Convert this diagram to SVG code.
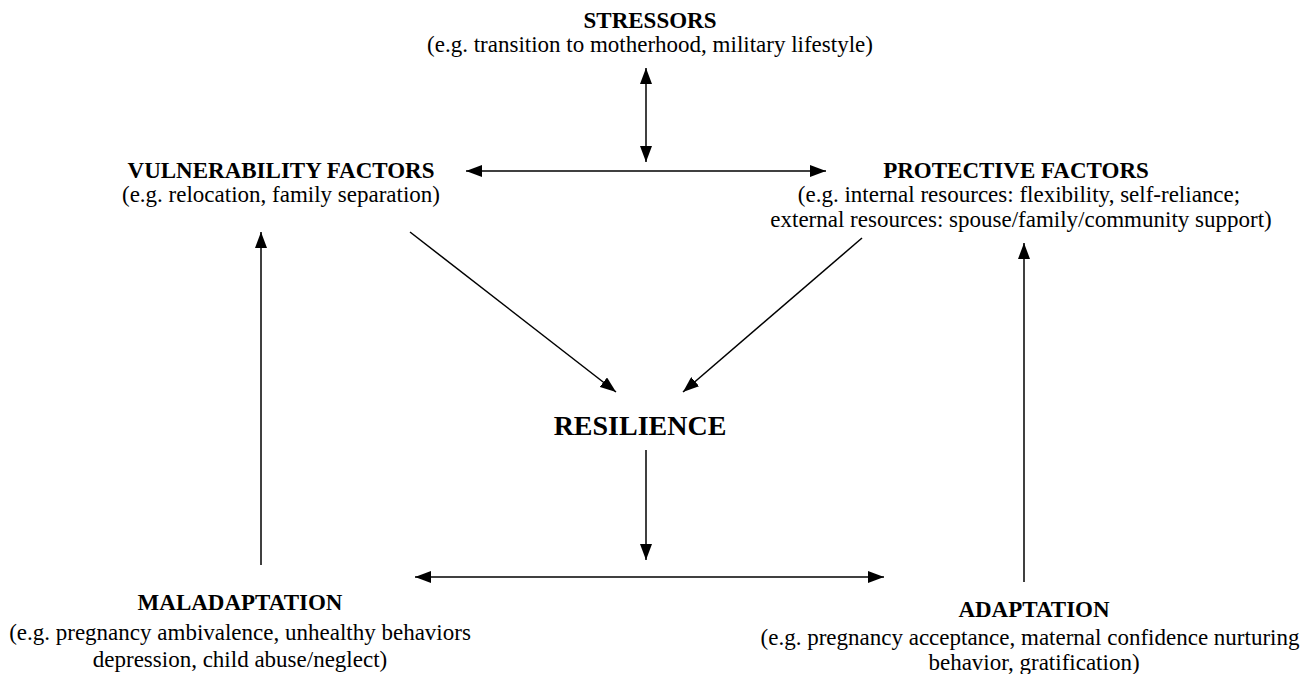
<svg xmlns="http://www.w3.org/2000/svg" width="1304" height="674" viewBox="0 0 1304 674">
<style>
text{font-family:"Liberation Serif","Times New Roman",serif;fill:#000;text-anchor:middle}
.t{font-weight:bold;font-size:23px}
.s{font-size:23px}
.big{font-weight:bold;font-size:28px}
.c{stroke:#000;stroke-width:1.5;fill:none}
</style>
<defs>
<marker id="ah" viewBox="0 0 16 12" refX="16" refY="6" markerWidth="16" markerHeight="12" markerUnits="userSpaceOnUse" orient="auto-start-reverse">
<path d="M0,0 L16,6 L0,12 z" fill="#000"/>
</marker>
</defs>
<rect width="1304" height="674" fill="#fff"/>
<g id="stressors">
<text class="t" x="650" y="28">STRESSORS</text>
<text class="s" x="650" y="52">(e.g. transition to motherhood, military lifestyle)</text>
</g>
<g id="vulnerability">
<text class="t" x="281" y="178">VULNERABILITY FACTORS</text>
<text class="s" x="281" y="202">(e.g. relocation, family separation)</text>
</g>
<g id="protective">
<text class="t" x="1016" y="178">PROTECTIVE FACTORS</text>
<text class="s" x="1019" y="202">(e.g. internal resources: flexibility, self-reliance;</text>
<text class="s" x="1021" y="227">external resources: spouse/family/community support)</text>
</g>
<g id="resilience">
<text class="big" x="640" y="435">RESILIENCE</text>
</g>
<g id="maladaptation">
<text class="t" x="240" y="610">MALADAPTATION</text>
<text class="s" x="240" y="640">(e.g. pregnancy ambivalence, unhealthy behaviors</text>
<text class="s" x="240" y="667">depression, child abuse/neglect)</text>
</g>
<g id="adaptation">
<text class="t" x="1034" y="617">ADAPTATION</text>
<text class="s" x="1030" y="645">(e.g. pregnancy acceptance, maternal confidence nurturing</text>
<text class="s" x="1034" y="670">behavior, gratification)</text>
</g>
<g id="connectors">
<line class="c" x1="646" y1="68" x2="646" y2="162" marker-start="url(#ah)" marker-end="url(#ah)"/>
<line class="c" x1="466" y1="171" x2="826" y2="171" marker-start="url(#ah)" marker-end="url(#ah)"/>
<line class="c" x1="410" y1="232" x2="616" y2="392" marker-end="url(#ah)"/>
<line class="c" x1="862" y1="238" x2="683" y2="392" marker-end="url(#ah)"/>
<line class="c" x1="646" y1="450" x2="646" y2="560" marker-end="url(#ah)"/>
<line class="c" x1="261" y1="565" x2="261" y2="232" marker-end="url(#ah)"/>
<line class="c" x1="1024" y1="582" x2="1024" y2="243" marker-end="url(#ah)"/>
<line class="c" x1="415" y1="577" x2="884" y2="577" marker-start="url(#ah)" marker-end="url(#ah)"/>
</g>
</svg>
